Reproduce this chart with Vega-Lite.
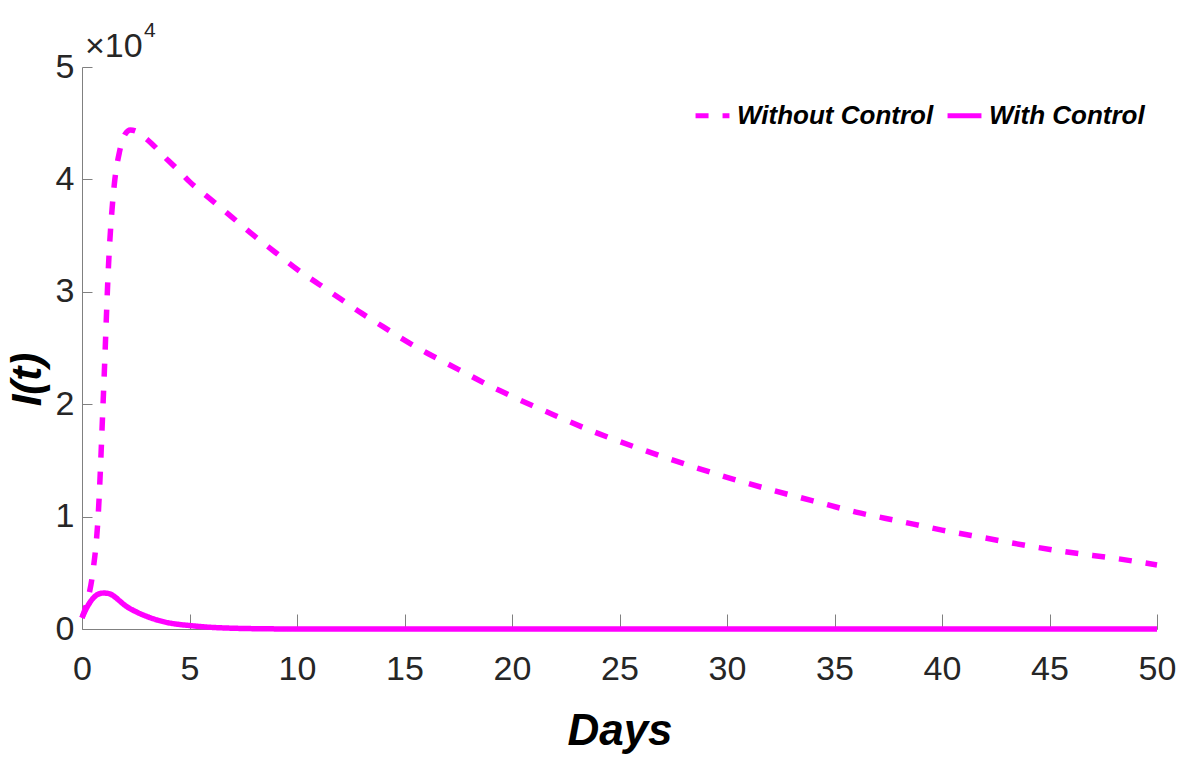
{
  "$schema": "https://vega.github.io/schema/vega-lite/v6.json",
  "width": 1075,
  "height": 562,
  "autosize": {"type": "none"},
  "padding": {"left": 82, "top": 67, "right": 30, "bottom": 130},
  "background": "white",
  "config": {
    "view": {"stroke": null},
    "font": "Liberation Sans, sans-serif"
  },
  "datasets": {
    "curves": [
      {"day": 0, "I": 1000, "series": "Without Control"},
      {"day": 0.25, "I": 2500, "series": "Without Control"},
      {"day": 0.5, "I": 5000, "series": "Without Control"},
      {"day": 0.75, "I": 10000, "series": "Without Control"},
      {"day": 1.0, "I": 21000, "series": "Without Control"},
      {"day": 1.25, "I": 33000, "series": "Without Control"},
      {"day": 1.5, "I": 39500, "series": "Without Control"},
      {"day": 1.75, "I": 42500, "series": "Without Control"},
      {"day": 2.0, "I": 44000, "series": "Without Control"},
      {"day": 2.25, "I": 44400, "series": "Without Control"},
      {"day": 2.5, "I": 44300, "series": "Without Control"},
      {"day": 3, "I": 43600, "series": "Without Control"},
      {"day": 3.5, "I": 42700, "series": "Without Control"},
      {"day": 4, "I": 41700, "series": "Without Control"},
      {"day": 4.5, "I": 40800, "series": "Without Control"},
      {"day": 5, "I": 39800, "series": "Without Control"},
      {"day": 6, "I": 38200, "series": "Without Control"},
      {"day": 7, "I": 36600, "series": "Without Control"},
      {"day": 8, "I": 35000, "series": "Without Control"},
      {"day": 9, "I": 33500, "series": "Without Control"},
      {"day": 10, "I": 32000, "series": "Without Control"},
      {"day": 11, "I": 30700, "series": "Without Control"},
      {"day": 12, "I": 29400, "series": "Without Control"},
      {"day": 13, "I": 28100, "series": "Without Control"},
      {"day": 14, "I": 26900, "series": "Without Control"},
      {"day": 15, "I": 25700, "series": "Without Control"},
      {"day": 16, "I": 24600, "series": "Without Control"},
      {"day": 17, "I": 23600, "series": "Without Control"},
      {"day": 18, "I": 22600, "series": "Without Control"},
      {"day": 19, "I": 21600, "series": "Without Control"},
      {"day": 20, "I": 20700, "series": "Without Control"},
      {"day": 22, "I": 19000, "series": "Without Control"},
      {"day": 24, "I": 17400, "series": "Without Control"},
      {"day": 26, "I": 16000, "series": "Without Control"},
      {"day": 28, "I": 14700, "series": "Without Control"},
      {"day": 30, "I": 13500, "series": "Without Control"},
      {"day": 32, "I": 12400, "series": "Without Control"},
      {"day": 34, "I": 11400, "series": "Without Control"},
      {"day": 36, "I": 10400, "series": "Without Control"},
      {"day": 38, "I": 9600, "series": "Without Control"},
      {"day": 40, "I": 8800, "series": "Without Control"},
      {"day": 42, "I": 8100, "series": "Without Control"},
      {"day": 44, "I": 7400, "series": "Without Control"},
      {"day": 46, "I": 6800, "series": "Without Control"},
      {"day": 48, "I": 6300, "series": "Without Control"},
      {"day": 50, "I": 5700, "series": "Without Control"},
      {"day": 0, "I": 1000, "series": "With Control"},
      {"day": 0.25, "I": 2000, "series": "With Control"},
      {"day": 0.5, "I": 2700, "series": "With Control"},
      {"day": 0.75, "I": 3100, "series": "With Control"},
      {"day": 1.0, "I": 3200, "series": "With Control"},
      {"day": 1.25, "I": 3150, "series": "With Control"},
      {"day": 1.5, "I": 2900, "series": "With Control"},
      {"day": 1.75, "I": 2500, "series": "With Control"},
      {"day": 2.0, "I": 2100, "series": "With Control"},
      {"day": 2.5, "I": 1550, "series": "With Control"},
      {"day": 3, "I": 1130, "series": "With Control"},
      {"day": 3.5, "I": 800, "series": "With Control"},
      {"day": 4, "I": 560, "series": "With Control"},
      {"day": 4.5, "I": 410, "series": "With Control"},
      {"day": 5, "I": 310, "series": "With Control"},
      {"day": 6, "I": 150, "series": "With Control"},
      {"day": 7, "I": 70, "series": "With Control"},
      {"day": 8, "I": 30, "series": "With Control"},
      {"day": 9, "I": 10, "series": "With Control"},
      {"day": 10, "I": 0, "series": "With Control"},
      {"day": 20, "I": 0, "series": "With Control"},
      {"day": 30, "I": 0, "series": "With Control"},
      {"day": 40, "I": 0, "series": "With Control"},
      {"day": 50, "I": 0, "series": "With Control"}
    ],
    "exponent": [
      {"base": "×10", "power": "4"}
    ]
  },
  "layer": [
    {
      "data": {"name": "curves"},
      "mark": {"type": "line", "strokeWidth": 5.5, "interpolate": "monotone", "clip": false},
      "encoding": {
        "x": {
          "field": "day", "type": "quantitative",
          "scale": {"domain": [0, 50], "nice": false},
          "axis": {
            "values": [0, 5, 10, 15, 20, 25, 30, 35, 40, 45, 50],
            "title": "Days",
            "titleFontSize": 44, "titleFontWeight": "bold", "titleFontStyle": "italic",
            "titleColor": "#000000", "titleY": 80, "titleBaseline": "top",
            "labelFontSize": 34, "labelColor": "#262626", "labelPadding": 38,
            "tickSize": -15, "tickColor": "#808080", "domainColor": "#808080",
            "grid": false, "labelFlush": false
          }
        },
        "y": {
          "field": "I", "type": "quantitative",
          "scale": {"domain": [0, 50000], "nice": false},
          "axis": {
            "values": [0, 10000, 20000, 30000, 40000, 50000],
            "labelExpr": "format(datum.value / 10000, 'd')",
            "title": "I(t)",
            "titleFontSize": 42, "titleFontWeight": "bold", "titleFontStyle": "italic",
            "titleColor": "#000000", "titleX": -33, "titleY": 312,
            "labelFontSize": 34, "labelColor": "#262626", "labelPadding": 18,
            "tickSize": -10, "tickColor": "#808080", "domainColor": "#808080",
            "grid": false, "labelFlush": false
          }
        },
        "color": {
          "field": "series", "type": "nominal",
          "scale": {"domain": ["Without Control", "With Control"], "range": ["#ff00ff", "#ff00ff"]},
          "legend": {
            "title": null, "orient": "none", "direction": "horizontal",
            "legendX": 611, "legendY": 29,
            "symbolType": "stroke", "symbolSize": 1150, "symbolStrokeWidth": 5,
            "labelFontSize": 26, "labelFontWeight": "bold", "labelFontStyle": "italic",
            "labelColor": "#000000", "labelOffset": 5, "columnPadding": 3,
            "labelLimit": 400
          }
        },
        "strokeDash": {
          "field": "series", "type": "nominal",
          "scale": {"domain": ["Without Control", "With Control"], "range": [[13, 14], [1, 0]]},
          "legend": {
            "title": null, "orient": "none", "direction": "horizontal",
            "legendX": 611, "legendY": 29,
            "symbolType": "stroke", "symbolSize": 1150, "symbolStrokeWidth": 5,
            "labelFontSize": 26, "labelFontWeight": "bold", "labelFontStyle": "italic",
            "labelColor": "#000000", "labelOffset": 5, "columnPadding": 3,
            "labelLimit": 400
          }
        }
      }
    },
    {
      "data": {"name": "exponent"},
      "mark": {"type": "text", "align": "left", "baseline": "alphabetic", "dx": 3, "dy": -10, "fontSize": 34, "color": "#262626"},
      "encoding": {
        "x": {"datum": 0, "type": "quantitative"},
        "y": {"datum": 50000, "type": "quantitative"},
        "text": {"field": "base"}
      }
    },
    {
      "data": {"name": "exponent"},
      "mark": {"type": "text", "align": "left", "baseline": "alphabetic", "dx": 62, "dy": -30, "fontSize": 21, "color": "#262626"},
      "encoding": {
        "x": {"datum": 0, "type": "quantitative"},
        "y": {"datum": 50000, "type": "quantitative"},
        "text": {"field": "power"}
      }
    }
  ]
}
